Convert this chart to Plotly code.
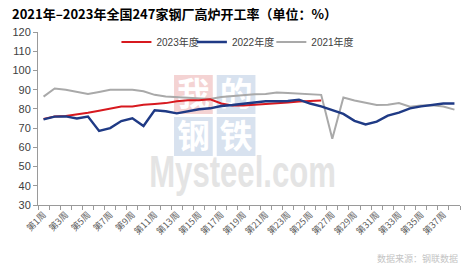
import base64
import plotly.graph_objects as go

# ---------------- data ----------------
weeks = [1, 2, 3, 4, 5, 6, 7, 8, 9, 10, 11, 12, 13, 14, 15, 16, 17, 18, 19,
         20, 21, 22, 23, 24, 25, 26, 27, 28, 29, 30, 31, 32, 33, 34, 35, 36, 37, 38]
tick_weeks = [1, 3, 5, 7, 9, 11, 13, 15, 17, 19, 21, 23, 25, 27, 29, 31, 33, 35, 37]
tick_text = ["第1周", "第3周", "第5周", "第7周", "第9周", "第11周", "第13周", "第15周",
             "第17周", "第19周", "第21周", "第23周", "第25周", "第27周", "第29周",
             "第31周", "第33周", "第35周", "第37周"]

rate_2023 = [74.8, 76.0, 76.3, 77.0, 78.0, 79.0, 80.1, 81.2, 81.2, 82.2, 82.6, 83.0,
             84.0, 84.5, 84.5, 85.0, 82.8, 81.8, 81.7, 82.0, 82.4, 82.7, 83.3, 83.9,
             84.2, 84.4]
rate_2022 = [74.5, 76.0, 76.1, 75.0, 76.0, 68.5, 70.0, 73.7, 75.1, 71.1, 79.3, 78.8,
             77.7, 78.6, 79.8, 80.3, 81.5, 82.0, 82.8, 83.5, 84.0, 84.0, 84.1, 84.8,
             82.8, 81.3, 79.2, 77.4, 73.8, 71.9, 73.4, 76.5, 78.1, 80.3, 81.3, 82.1,
             82.8, 82.8]
rate_2021 = [86.4, 90.6, 89.9, 88.8, 87.8, 88.8, 89.9, 89.9, 89.9, 89.2, 87.3, 86.5,
             86.2, 85.8, 85.5, 85.2, 86.2, 86.7, 87.1, 87.6, 87.8, 88.5, 88.3, 88.0,
             87.6, 87.3, 64.5, 85.9, 84.4, 83.2, 82.0, 82.2, 83.1, 81.1, 81.7, 81.9,
             81.2, 79.6]

series_names = ["2023年度", "2022年度", "2021年度"]
series_colors = ["#d7191f", "#1f3a85", "#a9a9a9"]

title_text = "2021年–2023年全国247家钢厂高炉开工率（单位：%）"
source_text = "数据来源：钢联数据"

W, H = 474, 267
ML, MR, MT, MB = 35, 14, 32, 62

# ---------------- watermark (background image) ----------------
svg = f'''<svg xmlns="http://www.w3.org/2000/svg" width="{W}" height="{H}" viewBox="0 0 {W} {H}">
<g font-family="Noto Sans CJK SC" font-weight="700" font-size="33" fill="#ffffff" text-anchor="middle">
<rect x="172" y="75" width="39" height="39" fill="#f4d3d3"/>
<rect x="215" y="75" width="39" height="39" fill="#d8e2ef"/>
<rect x="172" y="117" width="39" height="39" fill="#d8e2ef"/>
<rect x="215" y="117" width="39" height="39" fill="#d8e2ef"/>
<text x="191.5" y="106">我</text>
<text x="234.5" y="106">的</text>
<text x="191.5" y="148">钢</text>
<text x="234.5" y="148">铁</text>
</g>
<text x="147" y="187" font-family="Liberation Sans" font-weight="700" font-size="44"
 fill="#e4e4e4" textLength="188" lengthAdjust="spacingAndGlyphs">Mysteel.com</text>
</svg>'''
svg_uri = "data:image/svg+xml;base64," + base64.b64encode(svg.encode("utf-8")).decode()

pw = W - ML - MR
ph = H - MT - MB

fig = go.Figure()

# draw order: gray, red, blue ; each series gets its own legend box
legend_px = {"legend": 114, "legend2": 190, "legend3": 270}
for name, vals, color, width, leg in [
    (series_names[2], rate_2021, series_colors[2], 2.0, "legend3"),
    (series_names[0], rate_2023, series_colors[0], 2.0, "legend"),
    (series_names[1], rate_2022, series_colors[1], 2.4, "legend2"),
]:
    fig.add_trace(go.Scatter(
        x=weeks[:len(vals)], y=vals, mode="lines", name=name,
        line=dict(color=color, width=width), legend=leg,
        hoverinfo="skip",
    ))

def legend_box(px):
    return dict(orientation="h", x=(px - ML) / pw, xanchor="left",
                y=(H - MB - 42) / ph, yanchor="middle",
                font=dict(size=10, color="#404040", family="Liberation Sans, Noto Sans CJK SC"),
                itemwidth=30, bgcolor="rgba(0,0,0,0)", borderwidth=0)

fig.update_layout(
    width=W, height=H,
    margin=dict(l=ML, r=MR, t=MT, b=MB),
    paper_bgcolor="white",
    plot_bgcolor="rgba(0,0,0,0)",
    font=dict(family="Liberation Sans, Noto Sans CJK SC", size=10, color="#595959"),
    title=dict(text=title_text, x=12 / W, xref="container", xanchor="left",
               y=1 - 14 / H, yref="container", yanchor="middle",
               font=dict(family="Noto Sans CJK SC", size=13, color="#000000", weight=700)),
    legend=legend_box(legend_px["legend"]),
    legend2=legend_box(legend_px["legend2"]),
    legend3=legend_box(legend_px["legend3"]),
    showlegend=True,
    images=[dict(source=svg_uri, xref="paper", yref="paper",
                 x=-ML / pw, y=1 + MT / ph, sizex=W / pw, sizey=H / ph,
                 xanchor="left", yanchor="top", sizing="stretch", layer="below")],
    annotations=[dict(text=source_text, xref="paper", yref="paper",
                      x=1.0, xanchor="right", y=-(258 - (H - MB)) / ph, yanchor="middle",
                      showarrow=False,
                      font=dict(size=9, color="#c4c4c4", family="Noto Sans CJK SC"))],
)

fig.update_xaxes(
    range=[0.5, 38.5], tickmode="array", tickvals=tick_weeks, ticktext=tick_text,
    tickangle=-45, ticks="", showgrid=False, zeroline=False,
    showline=True, linecolor="#9a9a9a", linewidth=1,
    tickfont=dict(size=9, color="#606060", family="Noto Sans CJK SC"),
    minor=dict(ticks="outside", tick0=0.5, dtick=1, ticklen=4, tickcolor="#9a9a9a",
               tickwidth=1, showgrid=False),
)
fig.update_yaxes(
    range=[30, 120], dtick=10, tick0=30, ticks="outside", ticklen=4,
    tickcolor="#9a9a9a", showgrid=False, zeroline=False,
    showline=True, linecolor="#9a9a9a", linewidth=1,
    tickfont=dict(size=11, color="#404040"),
)

fig.write_html("out.html")
